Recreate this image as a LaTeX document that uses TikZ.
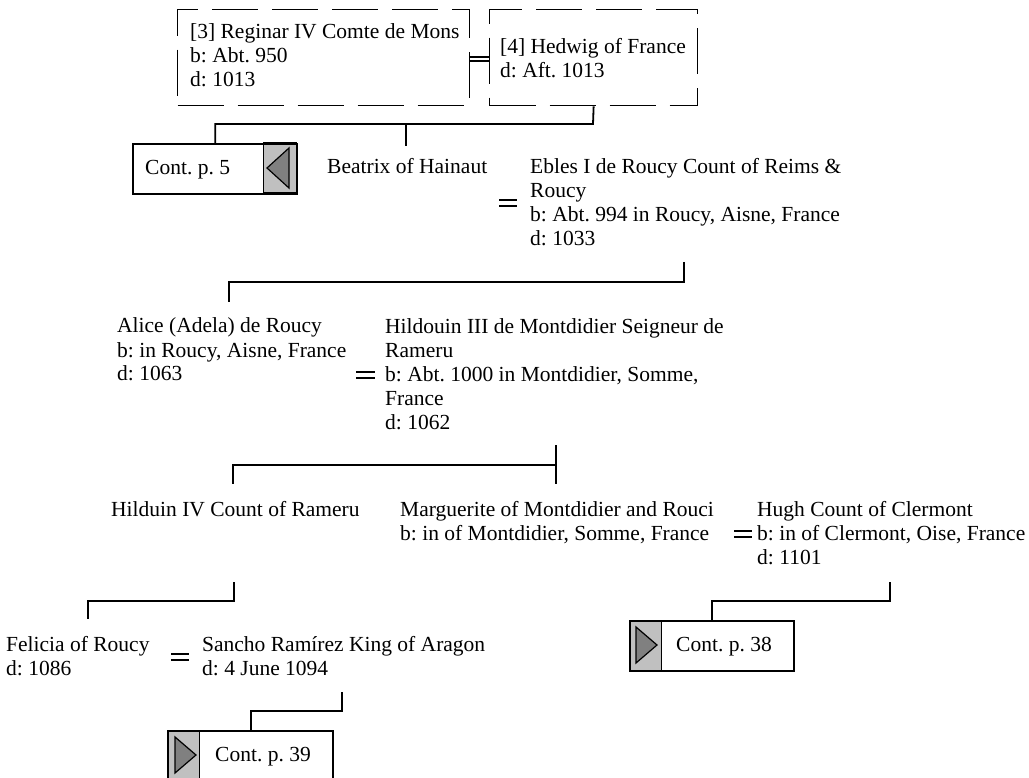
\documentclass[tikz,border=0pt]{standalone}
\usepackage{fontspec}
\setmainfont{Liberation Serif}
\definecolor{silver}{HTML}{C0C0C0}
\definecolor{midgray}{HTML}{808080}
\begin{document}
\frenchspacing
\begin{tikzpicture}[x=1pt,y=-1pt,
  person/.style={anchor=base west, inner sep=0pt, align=left, font=\fontsize{21.5}{24}\selectfont},
  dbox/.style={draw, line width=1.3pt, dash pattern=on 46pt off 14pt, inner sep=0pt, anchor=north west},
  conn/.style={line width=1.8pt},
  eqline/.style={line width=1.5pt},
  contframe/.style={draw, line width=2.4pt, inner sep=0pt, anchor=north west, minimum width=164pt, minimum height=50pt},
  tab/.style={fill=silver, draw=black, line width=1pt},
  tri/.style={fill=midgray, draw=black, line width=1.2pt, line join=miter},
]
\useasboundingbox (0,0) rectangle (1029,778);
\clip (0,0) rectangle (1029,778);

% multi-line nodes: the base anchor is the baseline of the LAST line

% top couple
\node[dbox, minimum width=292pt, minimum height=96pt] (box1) at (177,9) {};
\node[dbox, minimum width=208pt, minimum height=96pt] (box2) at (489,9) {};
\node[person] (reginar) at (190,87) {[3] Reginar IV Comte de Mons\\b: Abt. 950\\d: 1013};
\node[person] (hedwig) at (500,78) {[4] Hedwig of France\\d: Aft. 1013};
\coordinate (q1a) at (469,57); \coordinate (q1b) at (489,57);
\coordinate (q2a) at (469,61); \coordinate (q2b) at (489,61);
\draw[eqline] (q1a) -- (q1b) (q2a) -- (q2b);

% cont p. 5
\draw[tab] (263,143) rectangle (296,193);
\draw[tri] (267,168) -- (289,148) -- (289,188) -- cycle;
\node[contframe] (c5) at (132,143) {};
\node[person] (c5t) at (145,175) {Cont. p. 5};

% generation 2
\node[person] (beatrix) at (327,174) {Beatrix of Hainaut};
\node[person] (ebles) at (530,246) {Ebles I de Roucy Count of Reims \&\\Roucy\\b: Abt. 994 in Roucy, Aisne, France\\d: 1033};
\draw[eqline] (499,200) -- (517,200) (499,206) -- (517,206);

\coordinate (j1) at (593,124);
\coordinate (beaT) at (406,146);
\draw[conn] (box2.south) -- (j1) -- (j1 -| c5.north) -- (c5.north);
\draw[conn] (j1 -| beaT) -- (beaT);

% generation 3
\node[person] (alice) at (117,381) {Alice (Adela) de Roucy\\b: in Roucy, Aisne, France\\d: 1063};
\node[person] (hild3) at (385,429) {Hildouin III de Montdidier Seigneur de\\Rameru\\b: Abt. 1000 in Montdidier, Somme,\\France\\d: 1062};
\draw[eqline] (356,372) -- (375,372) (356,378) -- (375,378);

\coordinate (e1) at (684,262);
\coordinate (e2) at (684,282);
\coordinate (aliceT) at (229,302);
\draw[conn] (e1) -- (e2) -- (e2 -| aliceT) -- (aliceT);

% generation 4
\node[person] (hild4) at (111,516) {Hilduin IV Count of Rameru};
\node[person] (marg) at (400,540) {Marguerite of Montdidier and Rouci\\b: in of Montdidier, Somme, France};
\node[person] (hugh) at (757,564) {Hugh Count of Clermont\\b: in of Clermont, Oise, France\\d: 1101};
\draw[eqline] (734,531) -- (752,531) (734,537) -- (752,537);

\coordinate (h1) at (556,445);
\coordinate (h2) at (556,465);
\coordinate (margT) at (556,484);
\coordinate (hild4T) at (233,484);
\draw[conn] (h1) -- (margT);
\draw[conn] (h2) -- (h2 -| hild4T) -- (hild4T);

% Hugh's line
\coordinate (g1) at (890,582);
\coordinate (g2) at (890,601);
\draw[tab] (629,620) rectangle (661,670);
\draw[tri] (636,627) -- (657,645) -- (636,663) -- cycle;
\node[contframe] (c38) at (629,620) {};
\node[person] (c38t) at (676,651) {Cont. p. 38};
\draw[conn] (g1) -- (g2) -- (g2 -| c38.north) -- (c38.north);

% generation 5
\node[person] (felicia) at (6,675) {Felicia of Roucy\\d: 1086};
\node[person] (sancho) at (202,675) {Sancho Ramírez King of Aragon\\d: 4 June 1094};
\draw[eqline] (171,654) -- (189,654) (171,660) -- (189,660);

\coordinate (f1) at (234,582);
\coordinate (f2) at (234,601);
\coordinate (feliciaT) at (88,619);
\draw[conn] (f1) -- (f2) -- (f2 -| feliciaT) -- (feliciaT);

% cont p. 39
\draw[tab] (167,730) rectangle (199,780);
\draw[tri] (175,737) -- (196,755) -- (175,773) -- cycle;
\node[contframe, minimum width=165pt] (c39) at (167,730) {};
\node[person] (c39t) at (215,761) {Cont. p. 39};
\coordinate (s1) at (342,692);
\coordinate (s2) at (342,711);
\draw[conn] (s1) -- (s2) -- (s2 -| c39.north) -- (c39.north);
\end{tikzpicture}
\end{document}
